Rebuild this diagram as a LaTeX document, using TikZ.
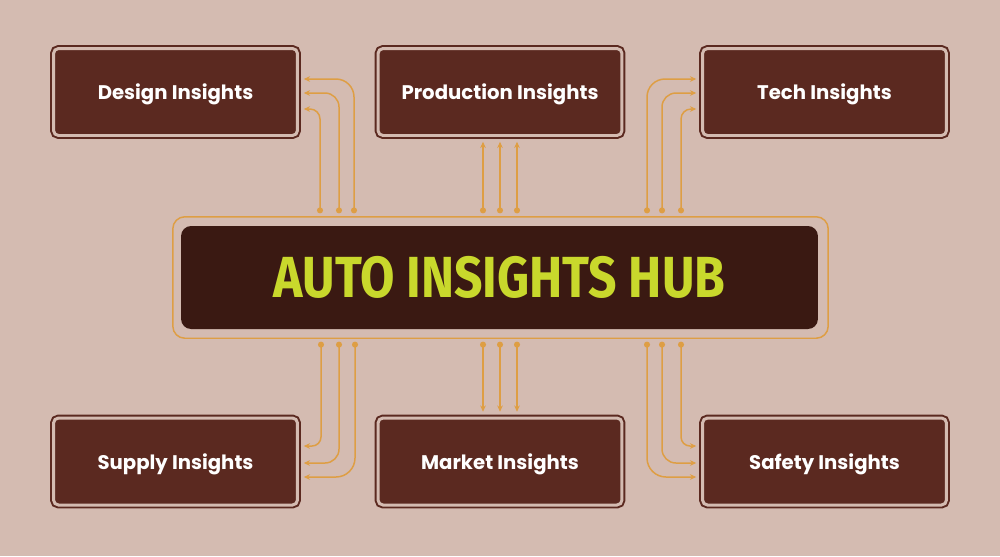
\documentclass[tikz,border=0pt]{standalone}
\usepackage{fontspec}
\setmainfont{Poppins}
\newfontfamily\hubfont{Fira Sans}
\usepackage{tikz}
\usetikzlibrary{arrows.meta}
\definecolor{bgpink}{HTML}{D4BBB1}
\definecolor{boxbrown}{HTML}{5B2920}
\definecolor{hubbrown}{HTML}{3A1912}
\definecolor{hubgreen}{HTML}{C9D82C}
\definecolor{linkorange}{HTML}{DE9E44}
\tikzset{
  % Boxes round the hub: dark fill, light gap, dark rim
  insight box/.style={rectangle,rounded corners=0.1cm,fill=boxbrown,draw=boxbrown,
    double=bgpink,line width=1.13pt,double distance=1.7pt,
    minimum width=4.88cm,minimum height=1.74cm,text=white,text depth=0pt,
    font=\bfseries\fontsize{11.2}{13}\selectfont},
  hub frame/.style={rectangle,rounded corners=0.24cm,draw=linkorange,line width=0.85pt,
    minimum width=13.11cm,minimum height=2.43cm},
  hub box/.style={rectangle,rounded corners=0.2cm,fill=hubbrown,text=hubgreen,
    minimum width=12.74cm,minimum height=2.06cm},
  link/.style={draw=linkorange,line width=0.85pt,
    {Circle[length=3.4pt]}-{Stealth[length=3.6pt,width=3.2pt]},
    shorten <=1.5pt,shorten >=3pt}
}

\begin{document}
\begin{tikzpicture}[x=0.02cm,y=-0.02cm]
  % background and margins
  \fill[bgpink] (0,0) rectangle (1000,556);
  % The hub
  \node(frame)[hub frame] at (500.5,277.5) {};
  \node(hub)[hub box] at (499.5,277.5)
    {\scalebox{0.86}[1]{\hubfont\bfseries\fontsize{33}{36}\selectfont AUTO INSIGHTS HUB}};
  % The six boxes
  \node(design)[insight box] at (175.5,92) {Design Insights};
  \node(production)[insight box] at (500,92) {Production Insights};
  \node(tech)[insight box] at (824.5,92) {Tech Insights};
  \node(supply)[insight box] at (175.5,461.5) {Supply Insights};
  \node(market)[insight box] at (500,461.5) {Market Insights};
  \node(safety)[insight box] at (824.5,461.5) {Safety Insights};
  % links to the left boxes
  \foreach \x/\y/\r in {320/109/0.2, 339/93/0.28, 354/79/0.36}{
    \path (\x,0) coordinate (lx) (0,\y) coordinate (ly);
    \draw[link,rounded corners=\r cm] (frame.north -| lx) |- (design.east |- ly);
  }
  \foreach \x/\y/\r in {321/446/0.18, 339/463/0.28, 355/477/0.38}{
    \path (\x,0) coordinate (lx) (0,\y) coordinate (ly);
    \draw[link,rounded corners=\r cm] (frame.south -| lx) |- (supply.east |- ly);
  }
  % links to the right boxes
  \foreach \x/\y/\r in {681/109/0.2, 662/93/0.28, 647/79/0.36}{
    \path (\x,0) coordinate (lx) (0,\y) coordinate (ly);
    \draw[link,rounded corners=\r cm] (frame.north -| lx) |- (tech.west |- ly);
  }
  \foreach \x/\y/\r in {681/446/0.18, 662/463/0.28, 647/477/0.38}{
    \path (\x,0) coordinate (lx) (0,\y) coordinate (ly);
    \draw[link,rounded corners=\r cm] (frame.south -| lx) |- (safety.west |- ly);
  }
  % straight links to the middle boxes
  \foreach \x in {483,500,517}{
    \path (\x,0) coordinate (lx);
    \draw[link] (frame.north -| lx) -- (production.south -| lx);
    \draw[link] (frame.south -| lx) -- (market.north -| lx);
  }
\end{tikzpicture}
\end{document}
